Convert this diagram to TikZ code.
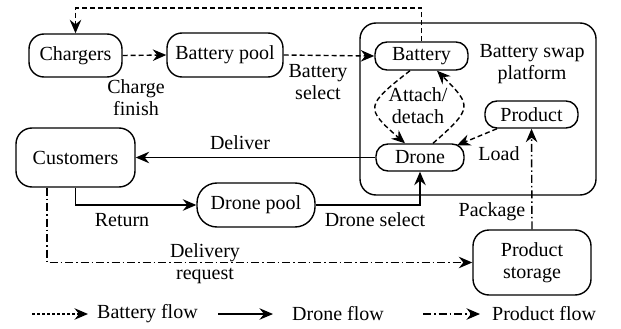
\documentclass[tikz,border=0pt]{standalone}
\usepackage{fontspec}
\setmainfont{Liberation Serif}
\usetikzlibrary{arrows.meta,calc}
\begin{document}
\begin{tikzpicture}[x=1pt, y=-1pt,
  font=\fontsize{20}{22}\selectfont,
  box/.style={draw, line width=1.4pt, inner sep=0pt, align=center},
  pill/.style={box, rounded corners=15pt},
  smallpill/.style={box, rounded corners=12pt},
  tip/.style={-{Stealth[length=13.5pt,width=11.5pt,inset=4.5pt]}},
  bflow/.style={tip, line width=1.4pt, dash pattern=on 5pt off 3pt},
  dflow/.style={tip, line width=1.4pt},
  pflow/.style={tip, line width=1.4pt, dash pattern=on 8pt off 3pt on 1.5pt off 3pt},
  lbl/.style={inner sep=0pt, align=center}]
\useasboundingbox (0,0) rectangle (621,329);

% battery swap platform frame
\draw[line width=1.4pt, rounded corners=16pt] (360,23) rectangle (596,195);
\node[lbl] (platformlbl) at (532,64) {Battery swap\\platform};

% nodes
\node[pill, minimum width=93pt, minimum height=43pt] (chargers) at (75.5,55.5) {Chargers};
\node[pill, minimum width=116pt, minimum height=44pt] (bpool) at (225,55) {Battery pool};
\node[smallpill, minimum width=93pt, minimum height=28pt] (battery) at (421.5,56) {Battery};
\node[smallpill, minimum width=88pt, minimum height=27pt] (drone) at (420,157.5) {Drone};
\node[smallpill, minimum width=93pt, minimum height=27pt] (product) at (531.5,114.5) {Product};
\node[box, rounded corners=16pt, minimum width=119pt, minimum height=59pt] (customers) at (75.5,157.5) {Customers};
\node[box, rounded corners=20pt, minimum width=118pt, minimum height=44pt] (dpool) at (256,205) {Drone pool};
\node[box, rounded corners=16pt, minimum width=118pt, minimum height=65pt] (pstorage) at (532,262.5) {Product\\storage};

% battery flow
\coordinate (topline) at (0,8);
\draw[bflow] (chargers.east) -- (bpool.west);
\draw[bflow] (bpool.east) -- (battery.west);
\draw[bflow] (battery.north) -- (battery.north |- topline) -| (chargers.north);
\draw[bflow] ([xshift=-11.5pt]battery.south) .. controls +(-45,35) and +(-40,-35) .. ([xshift=-15pt]drone.north);
\draw[bflow] ([xshift=13pt]drone.north) .. controls +(40,-35) and +(35,35) .. ([xshift=15.5pt]battery.south);
\draw[bflow] ([xshift=-34.5pt]product.south) -- ([xshift=37pt, yshift=-2pt]drone.north);

% drone flow
\draw[dflow] (drone.west) -- (customers.east);
\draw[dflow] (customers.south) |- (dpool.west);
\draw[dflow] (dpool.east) -| (drone.south);

% product flow
\draw[pflow] ([xshift=-28.5pt]customers.south) |- (pstorage.west);
\draw[pflow] (pstorage.north) -- (product.south);

% edge labels
\node[lbl] (lcharge) at (136,98) {Charge\\finish};
\node[lbl] (lbsel) at (318,82) {Battery\\select};
\node[lbl] (lattach) at (418,106) {Attach/\\detach};
\node[lbl] (lload) at (499,154) {Load};
\node[lbl] (ldeliver) at (240,143) {Deliver};
\node[lbl] (lreturn) at (122,220) {Return};
\node[lbl] (ldsel) at (375,220) {Drone select};
\node[lbl] (lreq) at (205,264) {Delivery\\request};
\node[lbl] (lpack) at (492,212) {Package};

% legend
\node[lbl, anchor=west] (legb) at (97,314) {Battery flow};
\node[lbl, anchor=west] (legd) at (292,314) {Drone flow};
\node[lbl, anchor=west] (legp) at (492,314) {Product flow};
\coordinate (legbs) at (32,314);
\coordinate (legds) at (218,314);
\coordinate (legps) at (423,314);
\draw[bflow, line width=1.2pt, dash pattern=on 3pt off 2pt] (legbs) -- ([xshift=-9pt]legb.west);
\draw[dflow] (legds) -- ([xshift=-19pt]legd.west);
\draw[pflow] (legps) -- ([xshift=-12pt]legp.west);
\end{tikzpicture}
\end{document}
